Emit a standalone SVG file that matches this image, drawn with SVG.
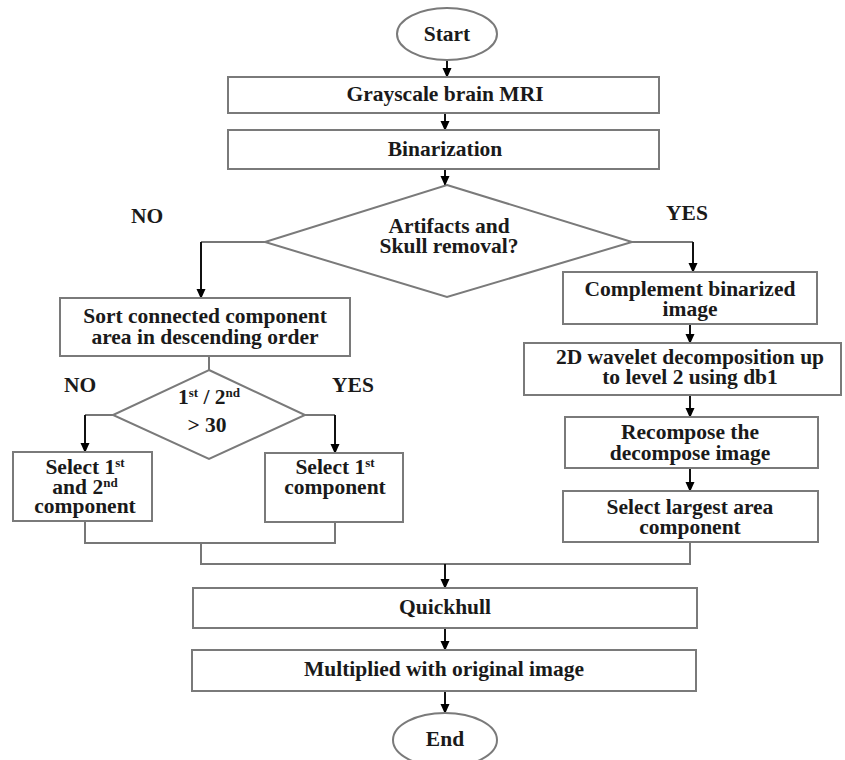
<svg xmlns="http://www.w3.org/2000/svg" width="845" height="760" viewBox="0 0 845 760">
<style>
.box{fill:#fff;stroke:#7a7a7a;stroke-width:2}
text{font-family:'Liberation Serif','DejaVu Serif','Times New Roman',serif;font-weight:bold;font-size:21.5px;fill:#1a1a1a;text-anchor:middle}
.sup{font-size:13px}
.c{fill:none;stroke:#111;stroke-width:2}
.l{fill:none;stroke:#777;stroke-width:2}
</style>
<defs>
<marker id="ah" markerWidth="10" markerHeight="10" refX="9" refY="5" orient="auto" markerUnits="userSpaceOnUse" viewBox="0 0 10 10">
<path d="M0,0.5 L10,5 L0,9.5 Z" fill="#000"/>
</marker>
</defs>
<rect width="845" height="760" fill="#fff"/>

<g id="connectors">
<path class="c" d="M447,60 V77" marker-end="url(#ah)"/>
<path class="c" d="M445,113 V130" marker-end="url(#ah)"/>
<path class="c" d="M445,169 V185" marker-end="url(#ah)"/>
<path class="l" d="M265,242 H201"/>
<path class="c" d="M201,242 V298" marker-end="url(#ah)"/>
<path class="l" d="M632,242 H693"/>
<path class="c" d="M693,242 V272" marker-end="url(#ah)"/>
<path class="c" d="M690,324 V343" marker-end="url(#ah)"/>
<path class="c" d="M690,395 V417" marker-end="url(#ah)"/>
<path class="c" d="M690,468 V491" marker-end="url(#ah)"/>
<path class="l" d="M209,356 V370"/>
<path class="l" d="M113,415 H85"/>
<path class="c" d="M85,415 V452" marker-end="url(#ah)"/>
<path class="l" d="M305,415 H335"/>
<path class="c" d="M335,415 V453" marker-end="url(#ah)"/>
<path class="l" d="M85,521 V543 H335 V522"/>
<path class="l" d="M201,543 V564 H690 V542"/>
<path class="c" d="M445,564 V588" marker-end="url(#ah)"/>
<path class="c" d="M445,628 V650" marker-end="url(#ah)"/>
<path class="c" d="M445,691 V713" marker-end="url(#ah)"/>
</g>

<g id="start">
<ellipse class="box" cx="447" cy="34" rx="50" ry="26"/>
<text x="447" y="41">Start</text>
</g>
<g id="grayscale">
<rect class="box" x="228" y="77" width="431" height="36"/>
<text x="445" y="101">Grayscale brain MRI</text>
</g>
<g id="binarization">
<rect class="box" x="228" y="130" width="431" height="39"/>
<text x="445" y="156">Binarization</text>
</g>
<g id="decision1">
<polygon class="box" points="447,185 632,242 447,297 265,242"/>
<text x="449" y="233">Artifacts and</text>
<text x="449" y="253">Skull removal?</text>
</g>
<text x="147" y="223">NO</text>
<text x="687" y="220">YES</text>
<g id="sort">
<rect class="box" x="60" y="298" width="290" height="58"/>
<text x="205" y="323">Sort connected component</text>
<text x="205" y="344">area in descending order</text>
</g>
<g id="decision2">
<polygon class="box" points="209,370 305,415 209,459 113,415"/>
<text x="209" y="404">1<tspan class="sup" dy="-7">st</tspan><tspan dy="7"> / 2</tspan><tspan class="sup" dy="-7">nd</tspan></text>
<text x="207" y="432">&gt; 30</text>
</g>
<text x="80" y="392">NO</text>
<text x="353" y="392">YES</text>
<g id="select12">
<rect class="box" x="13" y="452" width="139" height="69"/>
<text x="85" y="474">Select 1<tspan class="sup" dy="-7">st</tspan></text>
<text x="85" y="494">and 2<tspan class="sup" dy="-7">nd</tspan></text>
<text x="85" y="513">component</text>
</g>
<g id="select1">
<rect class="box" x="265" y="453" width="138" height="69"/>
<text x="335" y="474">Select 1<tspan class="sup" dy="-7">st</tspan></text>
<text x="335" y="494">component</text>
</g>
<g id="complement">
<rect class="box" x="563" y="272" width="254" height="52"/>
<text x="690" y="296">Complement binarized</text>
<text x="690" y="316">image</text>
</g>
<g id="wavelet">
<rect class="box" x="524" y="343" width="317" height="52"/>
<text x="690" y="364">2D wavelet decomposition up</text>
<text x="690" y="384">to level 2 using db1</text>
</g>
<g id="recompose">
<rect class="box" x="565" y="417" width="253" height="51"/>
<text x="690" y="439">Recompose the</text>
<text x="690" y="460">decompose image</text>
</g>
<g id="largest">
<rect class="box" x="563" y="491" width="255" height="51"/>
<text x="690" y="514">Select largest area</text>
<text x="690" y="534">component</text>
</g>
<g id="quickhull">
<rect class="box" x="193" y="588" width="504" height="40"/>
<text x="445" y="614">Quickhull</text>
</g>
<g id="multiplied">
<rect class="box" x="192" y="650" width="504" height="41"/>
<text x="444" y="676">Multiplied with original image</text>
</g>
<g id="end">
<ellipse class="box" cx="445" cy="740" rx="52" ry="27"/>
<text x="445" y="746">End</text>
</g>
</svg>
